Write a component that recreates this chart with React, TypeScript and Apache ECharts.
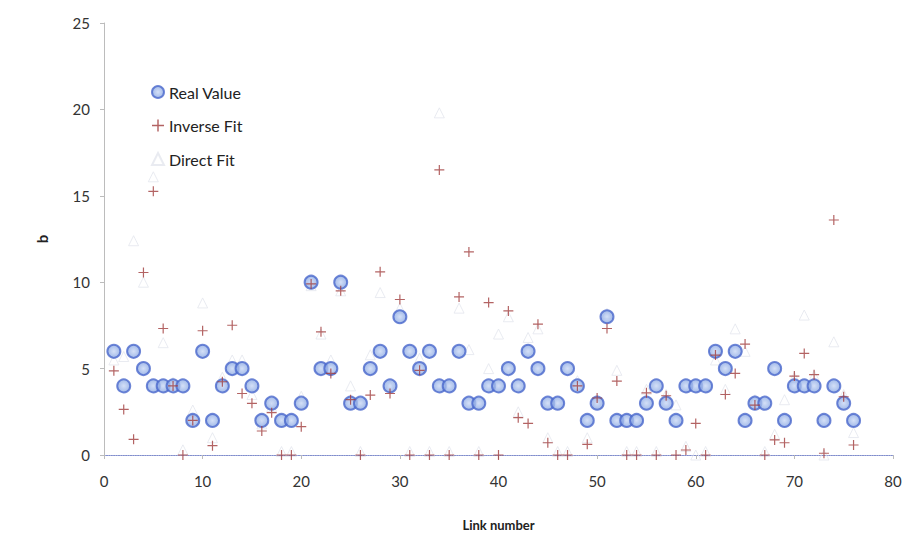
import React, { useEffect, useRef } from "react";
import * as echarts from "echarts";

const linkNumbers = Array.from({ length: 76 }, (_, i) => i + 1);

const realValue = [
  6, 4, 6, 5, 4, 4, 4, 4, 2, 6, 2, 4, 5, 5, 4, 2, 3, 2, 2, 3,
  10, 5, 5, 10, 3, 3, 5, 6, 4, 8, 6, 5, 6, 4, 4, 6, 3, 3, 4, 4,
  5, 4, 6, 5, 3, 3, 5, 4, 2, 3, 8, 2, 2, 2, 3, 4, 3, 2, 4, 4,
  4, 6, 5, 6, 2, 3, 3, 5, 2, 4, 4, 4, 2, 4, 3, 2,
];

const inverseFit = [
  4.87, 2.64, 0.91, 10.56, 15.26, 7.32, 4.0, 0.0, 2.0, 7.19,
  0.54, 4.24, 7.51, 3.56, 2.99, 1.39, 2.45, 0.0, 0.0, 1.64,
  9.9, 7.13, 4.72, 9.5, 3.2, 0.0, 3.47, 10.6, 3.56, 9.0,
  0.0, 4.9, 0.0, 16.5, 0.0, 9.15, 11.75, 0.0, 8.82, 0.0,
  8.34, 2.16, 1.83, 7.57, 0.71, 0.0, 0.0, 4.0, 0.62, 3.3,
  7.32, 4.28, 0.0, 0.0, 3.6, 0.0, 3.43, 0.0, 0.29, 1.83,
  0.0, 5.78, 3.5, 4.72, 6.42, 2.89, 0.0, 0.87, 0.71, 4.57,
  5.88, 4.65, 0.1, 13.6, 3.37, 0.58,
];

const directFit = [
  5.5, 5.7, 12.4, 10.0, 16.1, 6.5, 4.2, 0.3, 2.6, 8.8,
  1.0, 4.5, 5.5, 5.5, 3.5, 1.8, 2.8, 0.2, 0.2, 3.4,
  9.8, 7.0, 5.5, 9.5, 4.0, 0.2, 5.8, 9.4, 4.0, 8.5,
  0.2, 5.6, 0.2, 19.8, 0.2, 8.5, 6.1, 0.2, 5.0, 7.0,
  8.0, 2.5, 6.8, 7.3, 1.0, 0.2, 0.2, 4.3, 1.0, 3.0,
  8.2, 4.9, 0.2, 0.2, 3.8, 0.2, 3.5, 2.9, 0.5, 0.0,
  0.2, 5.5, 3.8, 7.3, 6.0, 3.2, 0.2, 1.2, 3.2, 4.5,
  8.1, 4.6, 0.0, 6.55, 3.5, 1.3,
];

const seriesNames = ["Real Value", "Inverse Fit", "Direct Fit"];
const xTicks = { min: 0, max: 80, interval: 10 };
const yTicks = { min: 0, max: 25, interval: 5 };

const PLUS = "path://M4.4,0h1.2v10h-1.2z M0,4.4h10v1.2h-10z";
const FONT = "Lato, 'Open Sans', sans-serif";

export default function App() {
  const ref = useRef<HTMLDivElement>(null);
  useEffect(() => {
    if (!ref.current) return;
    const chart = echarts.init(ref.current, null, { renderer: "svg" });
    const pair = (vals: number[]) => linkNumbers.map((x, i) => [x, vals[i]]);
    chart.setOption({
      animation: false,
      backgroundColor: "#ffffff",
      textStyle: { fontFamily: FONT },
      graphic: {
        elements: [
          {
            type: "rect",
            x: 0,
            y: 0,
            z: 100,
            shape: { x: 5, y: 3, width: 905, height: 546 },
            style: { fill: "rgba(0,0,0,0)", stroke: "#9a9a9a", lineWidth: 1.5 },
            silent: true,
          },
        ],
      },
      grid: { left: 104, right: 22, top: 23, bottom: 99, containLabel: false },
      legend: {
        orient: "vertical",
        left: 146,
        top: 79,
        itemGap: 17.5,
        itemWidth: 12,
        itemHeight: 12,
        textStyle: { fontFamily: FONT, fontSize: 16, color: "#222" },
        data: [
          { name: seriesNames[0], icon: "circle" },
          { name: seriesNames[1], icon: PLUS },
          { name: seriesNames[2], icon: "triangle" },
        ],
      },
      xAxis: {
        type: "value",
        min: xTicks.min,
        max: xTicks.max,
        interval: xTicks.interval,
        name: "Link number",
        nameLocation: "middle",
        nameGap: 63,
        nameTextStyle: { fontFamily: FONT, fontSize: 13, fontWeight: "bold", color: "#222" },
        axisLine: { onZero: false, lineStyle: { color: "#7f8ccc", type: "dotted", width: 1.2 } },
        axisTick: { show: true, inside: false, length: 4, lineStyle: { color: "#bbbbbb" } },
        axisLabel: { fontFamily: FONT, fontSize: 15, color: "#333", margin: 18 },
        splitLine: { show: false },
      },
      yAxis: {
        type: "value",
        min: yTicks.min,
        max: yTicks.max,
        interval: yTicks.interval,
        name: "b",
        nameLocation: "middle",
        nameGap: 55,
        nameRotate: 90,
        nameTextStyle: { fontFamily: FONT, fontSize: 15, fontWeight: "bold", color: "#222" },
        axisLine: { show: true, lineStyle: { color: "#bcbcbc", width: 1 } },
        axisTick: { show: true, inside: false, length: 4, lineStyle: { color: "#bcbcbc" } },
        axisLabel: { fontFamily: FONT, fontSize: 15, color: "#333", margin: 14 },
        splitLine: { show: false },
      },
      series: [
        {
          name: seriesNames[0],
          type: "scatter",
          symbol: "circle",
          symbolSize: 13,
          z: 2,
          itemStyle: {
            color: new echarts.graphic.RadialGradient(0.5, 0.5, 0.6, [
              { offset: 0, color: "#c9d8f5" },
              { offset: 1, color: "#7f9fe0" },
            ]),
            borderColor: "#4a68cc",
            borderWidth: 2,
          },
          data: pair(realValue),
        },
        {
          name: seriesNames[1],
          type: "scatter",
          symbol: PLUS,
          symbolSize: 10,
          z: 3,
          itemStyle: { color: "#a03c3c" },
          data: pair(inverseFit),
        },
        {
          name: seriesNames[2],
          type: "scatter",
          symbol: "triangle",
          symbolSize: 10,
          z: 1,
          itemStyle: { color: "rgba(255,255,255,0)", borderColor: "#e3e6ed", borderWidth: 1 },
          data: pair(directFit),
        },
      ],
    });
    return () => chart.dispose();
  }, []);
  return <div ref={ref} style={{ width: 915, height: 554, margin: -8 }} />;
}
